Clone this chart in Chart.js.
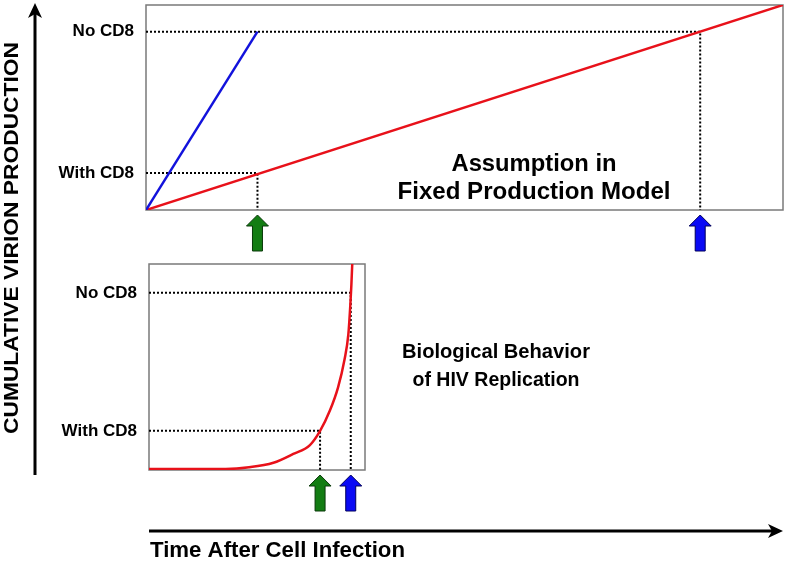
<!DOCTYPE html>
<html>
<head>
<meta charset="utf-8">
<script src="https://cdn.jsdelivr.net/npm/chart.js@4.4.1/dist/chart.umd.min.js"></script>
<style>
  html, body { margin: 0; padding: 0; background: #fff; }
  #wrap { position: relative; width: 788px; height: 565px; }
  #wrap canvas { position: absolute; left: 0; top: 0; }
</style>
</head>
<body>
<div id="wrap">
  <canvas id="fixed" width="788" height="565"></canvas>
  <canvas id="bio" width="788" height="565"></canvas>
</div>
<script>
// level labels on the y axes (low, high)
const levelLabels = ['With CD8', 'No CD8'];

// top panel: fixed production model
const fixedLevels = [18, 87];        // cumulative production at the two levels
const fixedTimes = [17.5, 87];       // time the level is reached (green, blue arrow)
const fixedNoCD8X = [0, 17.5];
const fixedNoCD8Y = [0, 87];
const fixedWithCD8X = [0, 100];
const fixedWithCD8Y = [0, 100];

// bottom panel: biological behaviour
const bioLevels = [19, 86];
const bioTimes = [79.2, 93.4];
const bioX = [0, 35.5, 46.3, 57.6, 66.8, 74.5, 79.2, 83.8, 87.5, 90.5, 92.3, 93.2, 93.7, 94.1, 94.3];
const bioY = [0.5, 0.5, 1.3, 3.5, 7.8, 12.1, 19, 29, 40, 53.5, 66, 80, 90, 100, 103];

const FONT = '"Liberation Sans", Arial, sans-serif';
const RED = '#e8111a';
const BLUE = '#1212dc';

const pts = (xs, ys) => xs.map((x, i) => ({ x: x, y: ys[i] }));

function guides(levels, times) {
  return levels.map((lv, i) => ({
    data: [{ x: 0, y: lv }, { x: times[i], y: lv }, { x: times[i], y: 0 }],
    borderColor: '#000',
    borderWidth: 2,
    borderDash: [2, 2],
    pointRadius: 0,
    tension: 0
  }));
}

function fitText(ctx, str, x, y, size, width, align, rot) {
  ctx.save();
  ctx.font = 'bold ' + size + 'px ' + FONT;
  const w = ctx.measureText(str).width;
  ctx.translate(x, y);
  if (rot) ctx.rotate(rot);
  ctx.scale(width / w, 1);
  ctx.textAlign = align;
  ctx.textBaseline = 'middle';
  ctx.fillStyle = '#000';
  ctx.fillText(str, 0, 0);
  ctx.restore();
}

function upArrow(ctx, x, top, len, fill, edge) {
  ctx.save();
  ctx.beginPath();
  ctx.moveTo(x, top);
  ctx.lineTo(x + 11, top + 11);
  ctx.lineTo(x + 5, top + 11);
  ctx.lineTo(x + 5, top + len);
  ctx.lineTo(x - 5, top + len);
  ctx.lineTo(x - 5, top + 11);
  ctx.lineTo(x - 11, top + 11);
  ctx.closePath();
  ctx.fillStyle = fill;
  ctx.fill();
  ctx.strokeStyle = edge;
  ctx.lineWidth = 1;
  ctx.stroke();
  ctx.restore();
}

// panel frame + arrows under the time points
const panelPlugin = {
  id: 'panel',
  beforeDatasetsDraw(chart) {
    const a = chart.chartArea, ctx = chart.ctx;
    ctx.save();
    ctx.strokeStyle = '#7a7a7a';
    ctx.lineWidth = 1.5;
    ctx.strokeRect(a.left, a.top, a.right - a.left, a.bottom - a.top);
    ctx.restore();
  },
  afterDraw(chart, args, opts) {
    const x = chart.scales.x, a = chart.chartArea;
    upArrow(chart.ctx, x.getPixelForValue(opts.times[0]), a.bottom + 5, 36, '#137d13', '#0a3a0a');
    upArrow(chart.ctx, x.getPixelForValue(opts.times[1]), a.bottom + 5, 36, '#0a0af5', '#00005a');
  }
};

// outer axes and captions
const decorPlugin = {
  id: 'decor',
  afterDraw(chart) {
    const ctx = chart.ctx;
    ctx.save();
    ctx.strokeStyle = '#000';
    ctx.fillStyle = '#000';
    ctx.lineWidth = 3;
    // vertical axis
    ctx.beginPath();
    ctx.moveTo(35, 475);
    ctx.lineTo(35, 12);
    ctx.stroke();
    ctx.beginPath();
    ctx.moveTo(35, 3);
    ctx.lineTo(42, 18);
    ctx.lineTo(35, 14);
    ctx.lineTo(28, 18);
    ctx.closePath();
    ctx.fill();
    // horizontal axis
    ctx.beginPath();
    ctx.moveTo(149, 531);
    ctx.lineTo(774, 531);
    ctx.stroke();
    ctx.beginPath();
    ctx.moveTo(783, 531);
    ctx.lineTo(768, 524);
    ctx.lineTo(772, 531);
    ctx.lineTo(768, 538);
    ctx.closePath();
    ctx.fill();
    ctx.restore();

    fitText(ctx, 'CUMULATIVE VIRION PRODUCTION', 12, 238, 20, 392, 'center', -Math.PI / 2);
    fitText(ctx, 'Time After Cell Infection', 150, 551, 22, 255, 'left');
    fitText(ctx, 'Assumption in', 534, 165, 23, 165, 'center');
    fitText(ctx, 'Fixed Production Model', 534, 193, 23, 273, 'center');
    fitText(ctx, 'Biological Behavior', 496, 352, 20, 188, 'center');
    fitText(ctx, 'of HIV Replication', 496, 380, 20, 167, 'center');
  }
};

function panelOptions(levels, times, axisWidth, padding) {
  return {
    responsive: false,
    animation: false,
    events: [],
    layout: { padding: padding },
    plugins: {
      legend: { display: false },
      tooltip: { enabled: false },
      panel: { times: times }
    },
    scales: {
      x: { type: 'linear', min: 0, max: 100, display: false },
      y: {
        type: 'linear', min: 0, max: 100,
        grid: { display: false, drawTicks: false },
        border: { display: false },
        afterBuildTicks: s => { s.ticks = levels.map(v => ({ value: v })); },
        afterFit: s => {
          s.width = axisWidth;
          s.paddingTop = 0;
          s.paddingBottom = 0;
        },
        ticks: {
          padding: 12,
          color: '#000',
          font: { family: FONT, size: 17, weight: 'bold' },
          callback: (v, i) => levelLabels[i]
        }
      }
    }
  };
}

new Chart(document.getElementById('fixed'), {
  type: 'line',
  data: {
    datasets: [
      { data: pts(fixedNoCD8X, fixedNoCD8Y), borderColor: BLUE, borderWidth: 2.5, pointRadius: 0 },
      { data: pts(fixedWithCD8X, fixedWithCD8Y), borderColor: RED, borderWidth: 2.5, pointRadius: 0 },
      ...guides(fixedLevels, fixedTimes)
    ]
  },
  options: panelOptions(fixedLevels, fixedTimes, 146, { left: 0, top: 5, right: 5, bottom: 355 }),
  plugins: [panelPlugin, decorPlugin]
});

new Chart(document.getElementById('bio'), {
  type: 'line',
  data: {
    datasets: [
      { data: pts(bioX, bioY), borderColor: RED, borderWidth: 2.5, pointRadius: 0, cubicInterpolationMode: 'monotone' },
      ...guides(bioLevels, bioTimes)
    ]
  },
  options: panelOptions(bioLevels, bioTimes, 149, { left: 0, top: 264, right: 423, bottom: 95 }),
  plugins: [panelPlugin]
});
</script>
</body>
</html>
